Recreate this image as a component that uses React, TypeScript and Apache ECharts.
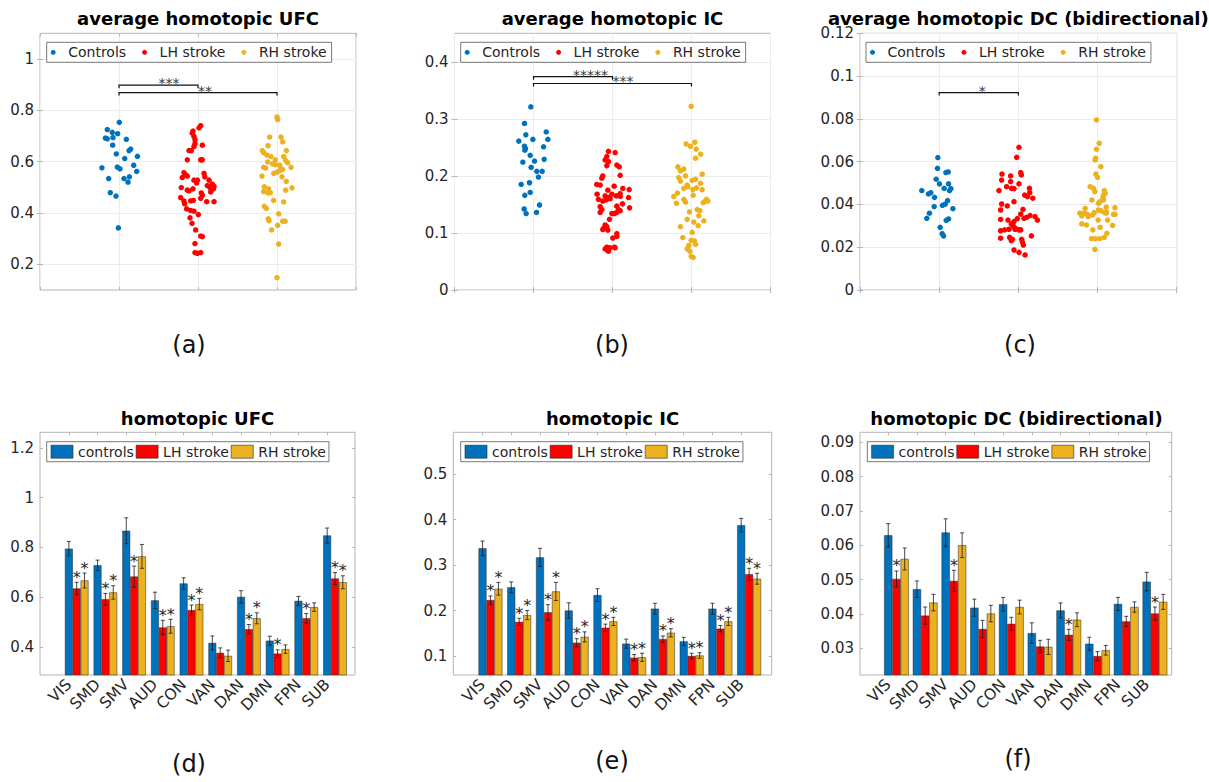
import React, { useEffect, useRef } from "react";
import * as echarts from "echarts";

const BLUE = "#0072BD";
const RED = "#FF0000";
const YELLOW = "#EDB120";
const FONT = "DejaVu Sans";
const TXT = "#262626";
const BOX = "#b4b4b4";
const GRIDLINE = "#ececec";

// ---------- scatter data: [x offset from group centre, value] ----------
const ufcControls: [number, number][] = [
  [0.004, 0.753], [-0.148, 0.725], [-0.085, 0.714], [-0.017, 0.709], [-0.173, 0.692], [-0.148, 0.689],
  [-0.076, 0.694], [0.093, 0.687], [-0.08, 0.664], [0.148, 0.649], [0.127, 0.643], [-0.034, 0.63],
  [0.233, 0.621], [0.072, 0.612], [-0.216, 0.576], [-0.021, 0.579], [0.013, 0.572], [0.186, 0.586],
  [0.224, 0.562], [0.063, 0.534], [0.131, 0.541], [-0.131, 0.534], [0.114, 0.52], [-0.11, 0.479],
  [-0.038, 0.466], [-0.008, 0.342],
];
const ufcLH: [number, number][] = [
  [0.034, 0.74], [0.013, 0.732], [-0.063, 0.719], [-0.072, 0.711], [-0.051, 0.698], [-0.038, 0.685],
  [-0.038, 0.67], [-0.051, 0.659], [0.055, 0.664], [-0.114, 0.643], [-0.085, 0.643], [-0.135, 0.607],
  [0.034, 0.607], [0.055, 0.607], [-0.178, 0.557], [-0.156, 0.548], [-0.199, 0.538], [-0.135, 0.544],
  [-0.051, 0.528], [-0.008, 0.528], [0.076, 0.554], [0.085, 0.541], [0.14, 0.528], [-0.017, 0.517],
  [0.118, 0.507], [0.182, 0.512], [0.203, 0.504], [0.195, 0.494], [0.152, 0.499], [-0.211, 0.499],
  [-0.063, 0.494], [-0.114, 0.486], [-0.135, 0.489], [0.042, 0.478], [0.055, 0.47], [0.161, 0.482],
  [0.034, 0.457], [-0.22, 0.46], [-0.178, 0.447], [-0.093, 0.447], [-0.059, 0.449], [0.203, 0.444],
  [0.11, 0.444], [-0.169, 0.436], [-0.144, 0.416], [-0.093, 0.41], [-0.051, 0.407], [0.004, 0.394],
  [-0.101, 0.381], [-0.076, 0.36], [-0.03, 0.334], [0.034, 0.31], [0.055, 0.308], [-0.038, 0.281],
  [-0.038, 0.246], [-0.008, 0.243], [0.034, 0.246],
];
const ufcRH: [number, number][] = [
  [0, 0.774], [0.008, 0.764], [-0.093, 0.696], [0.051, 0.696], [-0.114, 0.662], [0.072, 0.677],
  [-0.186, 0.643], [-0.169, 0.635], [0.118, 0.643], [-0.127, 0.625], [-0.076, 0.62], [0.085, 0.62],
  [-0.021, 0.607], [0.11, 0.604], [0.135, 0.596], [-0.118, 0.599], [-0.055, 0.591], [-0.021, 0.588],
  [0.034, 0.586], [0.178, 0.578], [-0.169, 0.578], [-0.144, 0.575], [0.072, 0.57], [0.034, 0.565],
  [0, 0.559], [-0.042, 0.554], [-0.19, 0.544], [0.118, 0.523], [0.063, 0.541], [-0.161, 0.502],
  [-0.106, 0.494], [0.19, 0.498], [-0.169, 0.483], [-0.114, 0.478], [-0.085, 0.479], [0.11, 0.489],
  [-0.042, 0.449], [0.085, 0.443], [-0.161, 0.426], [-0.135, 0.418], [0.021, 0.397], [-0.11, 0.377],
  [-0.101, 0.37], [0.072, 0.368], [0.101, 0.368], [0.008, 0.352], [-0.068, 0.334], [0.021, 0.279],
  [0, 0.148],
];
const icControls: [number, number][] = [
  [-0.034, 0.321], [-0.114, 0.292], [-0.097, 0.272], [0.161, 0.277], [-0.008, 0.264], [0.182, 0.264],
  [-0.186, 0.261], [-0.114, 0.252], [-0.101, 0.248], [-0.11, 0.245], [0.127, 0.251], [-0.042, 0.236],
  [-0.135, 0.224], [0.013, 0.226], [0.135, 0.229], [-0.03, 0.215], [0.042, 0.208], [0.11, 0.208],
  [0.063, 0.198], [-0.156, 0.185], [-0.051, 0.188], [-0.11, 0.166], [-0.042, 0.171], [0.076, 0.149],
  [-0.118, 0.142], [-0.093, 0.134], [0.038, 0.136],
];
const icLH: [number, number][] = [
  [-0.051, 0.243], [0.034, 0.241], [-0.072, 0.234], [-0.093, 0.228], [-0.051, 0.225], [0.055, 0.219],
  [0.085, 0.216], [-0.072, 0.218], [0.097, 0.201], [-0.123, 0.2], [-0.135, 0.196], [-0.199, 0.185],
  [-0.156, 0.184], [0.021, 0.182], [0.131, 0.178], [0.211, 0.176], [-0.059, 0.175], [0.097, 0.169],
  [-0.008, 0.168], [-0.093, 0.165], [0.047, 0.165], [-0.195, 0.168], [-0.051, 0.162], [0.097, 0.164],
  [0.203, 0.162], [-0.178, 0.159], [-0.03, 0.16], [-0.08, 0.158], [-0.123, 0.156], [0.127, 0.151],
  [-0.156, 0.146], [0.055, 0.147], [0.076, 0.141], [0.216, 0.144], [-0.135, 0.141], [0.025, 0.134],
  [0.055, 0.136], [-0.008, 0.134], [0.097, 0.139], [-0.156, 0.136], [-0.038, 0.124], [-0.093, 0.114],
  [-0.114, 0.108], [-0.072, 0.111], [-0.059, 0.105], [-0.123, 0.106], [0.055, 0.099], [0.004, 0.091],
  [0.055, 0.094], [-0.072, 0.075], [-0.03, 0.074], [-0.093, 0.072], [0.034, 0.074], [-0.059, 0.069],
  [-0.051, 0.068], [0.025, 0.075],
];
const icRH: [number, number][] = [
  [-0.004, 0.322], [-0.068, 0.256], [0.042, 0.259], [-0.013, 0.252], [0.059, 0.247], [0.114, 0.238],
  [0.051, 0.231], [-0.173, 0.216], [-0.097, 0.212], [-0.14, 0.209], [-0.076, 0.2], [-0.161, 0.197],
  [0.051, 0.194], [0.135, 0.203], [0.008, 0.192], [-0.14, 0.191], [-0.055, 0.184], [-0.047, 0.181],
  [0.114, 0.187], [-0.097, 0.178], [0.063, 0.179], [0.017, 0.176], [0.135, 0.176], [-0.178, 0.17],
  [-0.224, 0.164], [0.021, 0.166], [-0.097, 0.159], [0.19, 0.159], [-0.076, 0.154], [0.173, 0.156],
  [-0.19, 0.152], [0.148, 0.153], [0.207, 0.156], [-0.025, 0.137], [0.072, 0.141], [0.106, 0.139],
  [0.093, 0.13], [-0.055, 0.124], [0.03, 0.119], [0.156, 0.121], [-0.14, 0.111], [0.085, 0.113],
  [0.008, 0.101], [-0.11, 0.092], [-0.004, 0.087], [0.038, 0.086], [0.051, 0.08], [-0.034, 0.078],
  [-0.055, 0.072], [-0.021, 0.068], [-0.004, 0.059], [0.021, 0.057],
];
const dcControls: [number, number][] = [
  [-0.017, 0.0619], [-0.021, 0.0569], [0.085, 0.0549], [0.114, 0.0552], [-0.038, 0.0518], [0.004, 0.0496],
  [0.118, 0.0496], [-0.22, 0.0465], [-0.106, 0.0455], [-0.135, 0.0449], [-0.059, 0.0433], [0.148, 0.0474],
  [0.063, 0.0475], [0.131, 0.0465], [0.106, 0.0418], [0.076, 0.0401], [0.042, 0.0396], [-0.063, 0.039],
  [0.173, 0.038], [-0.123, 0.0359], [-0.156, 0.0335], [0.118, 0.0332], [0.089, 0.0326], [0.013, 0.0293],
  [0.038, 0.0263], [0.055, 0.0253],
];
const dcLH: [number, number][] = [
  [0.008, 0.0667], [-0.021, 0.062], [-0.207, 0.0542], [0.03, 0.0549], [0.038, 0.0538], [-0.097, 0.0533],
  [-0.211, 0.0514], [-0.097, 0.0507], [0.008, 0.0496], [-0.148, 0.0483], [-0.055, 0.0474], [-0.085, 0.0475],
  [-0.245, 0.0465], [0.14, 0.0475], [0.144, 0.0455], [0.08, 0.0444], [0.114, 0.0436], [0.182, 0.0429],
  [-0.055, 0.0413], [-0.211, 0.0402], [-0.14, 0.0393], [0.059, 0.0377], [-0.224, 0.0374], [0.03, 0.0355],
  [0.148, 0.0348], [0.211, 0.0343], [0.106, 0.034], [-0.224, 0.033], [-0.013, 0.0334], [0.072, 0.0335],
  [0.241, 0.0327], [-0.055, 0.032], [-0.131, 0.0327], [-0.089, 0.0309], [-0.042, 0.0284], [0.008, 0.0281],
  [-0.034, 0.0287], [-0.118, 0.0284], [0.03, 0.0281], [-0.173, 0.0281], [-0.063, 0.0299], [-0.224, 0.0277],
  [0.165, 0.0253], [-0.11, 0.0246], [-0.224, 0.0242], [-0.076, 0.0237], [0.042, 0.0237], [-0.089, 0.0231],
  [0.051, 0.0224], [0.063, 0.021], [-0.055, 0.0187], [0.008, 0.0176], [0.085, 0.0164],
];
const dcRH: [number, number][] = [
  [-0.013, 0.0795], [0.021, 0.0686], [-0.013, 0.0658], [-0.025, 0.0616], [-0.03, 0.0608], [0.042, 0.0577],
  [-0.021, 0.0542], [0, 0.0527], [-0.093, 0.0483], [-0.051, 0.0475], [-0.034, 0.046], [0.085, 0.0465],
  [0.097, 0.0452], [0.076, 0.0444], [0.068, 0.0433], [0.076, 0.0421], [-0.072, 0.0421], [0.03, 0.0413],
  [0.013, 0.0405], [0.11, 0.0387], [0.22, 0.0385], [0.013, 0.0374], [-0.156, 0.0382], [0.042, 0.0371],
  [0.114, 0.0365], [-0.042, 0.0362], [-0.224, 0.0359], [-0.169, 0.0359], [-0.127, 0.0354], [-0.199, 0.0346],
  [-0.118, 0.0343], [-0.063, 0.0351], [0.085, 0.0363], [0.106, 0.0359], [0.203, 0.0354], [0.22, 0.0354],
  [0.008, 0.0327], [0.127, 0.0327], [-0.199, 0.0309], [-0.14, 0.0304], [0.034, 0.0293], [0.19, 0.0302],
  [-0.059, 0.0281], [0.118, 0.0265], [-0.076, 0.024], [-0.03, 0.024], [0.03, 0.024], [0.085, 0.0246],
  [-0.034, 0.019],
];

// significance brackets: [from group, to group, height, label]
const ufcBrackets: [number, number, number, string][] = [[1, 2, 0.898, "***"], [1, 3, 0.869, "**"]];
const icBrackets: [number, number, number, string][] = [[1, 2, 0.374, "*****"], [1, 3, 0.362, "***"]];
const dcBrackets: [number, number, number, string][] = [[1, 2, 0.0923, "*"]];

// ---------- bar data ----------
const networks = ["VIS", "SMD", "SMV", "AUD", "CON", "VAN", "DAN", "DMN", "FPN", "SUB"];

const ufcCtrl = [0.795, 0.728, 0.867, 0.587, 0.655, 0.416, 0.601, 0.425, 0.585, 0.848];
const ufcCtrlErr = [0.029, 0.021, 0.052, 0.033, 0.023, 0.028, 0.025, 0.018, 0.018, 0.03];
const ufcLHm = [0.635, 0.592, 0.683, 0.478, 0.548, 0.376, 0.471, 0.373, 0.515, 0.675];
const ufcLHErr = [0.025, 0.023, 0.042, 0.029, 0.02, 0.02, 0.019, 0.015, 0.019, 0.024];
const ufcRHm = [0.667, 0.619, 0.764, 0.483, 0.572, 0.364, 0.515, 0.391, 0.56, 0.66];
const ufcRHErr = [0.03, 0.027, 0.048, 0.028, 0.023, 0.023, 0.022, 0.017, 0.017, 0.026];
const ufcSigLH = [1, 1, 1, 1, 1, 0, 1, 1, 1, 1];
const ufcSigRH = [1, 1, 0, 1, 1, 0, 1, 0, 0, 1];

const icCtrl = [0.337, 0.251, 0.317, 0.2, 0.234, 0.127, 0.204, 0.132, 0.204, 0.388];
const icCtrlErr = [0.016, 0.012, 0.02, 0.017, 0.014, 0.01, 0.012, 0.009, 0.012, 0.015];
const icLHm = [0.223, 0.175, 0.196, 0.129, 0.162, 0.096, 0.137, 0.1, 0.16, 0.28];
const icLHErr = [0.009, 0.008, 0.017, 0.009, 0.008, 0.007, 0.007, 0.006, 0.007, 0.013];
const icRHm = [0.248, 0.19, 0.242, 0.142, 0.176, 0.097, 0.151, 0.101, 0.176, 0.27];
const icRHErr = [0.014, 0.01, 0.02, 0.011, 0.009, 0.009, 0.009, 0.006, 0.009, 0.012];
const icSigLH = [1, 1, 1, 1, 1, 1, 1, 1, 1, 1];
const icSigRH = [1, 1, 1, 1, 1, 1, 1, 1, 1, 1];

const dcCtrl = [0.0629, 0.0472, 0.0637, 0.0418, 0.0428, 0.0344, 0.041, 0.0313, 0.0429, 0.0494];
const dcCtrlErr = [0.0034, 0.0024, 0.004, 0.0025, 0.002, 0.003, 0.0022, 0.0019, 0.0019, 0.0027];
const dcLHm = [0.0502, 0.0395, 0.0496, 0.0356, 0.0371, 0.0305, 0.0339, 0.0277, 0.0378, 0.0401];
const dcLHErr = [0.0023, 0.0025, 0.0031, 0.0025, 0.0019, 0.0018, 0.0016, 0.0013, 0.0015, 0.0019];
const dcRHm = [0.056, 0.0433, 0.06, 0.0401, 0.042, 0.0304, 0.0383, 0.0294, 0.042, 0.0435];
const dcRHErr = [0.0032, 0.0024, 0.0036, 0.0024, 0.002, 0.0022, 0.002, 0.0014, 0.0015, 0.0022];
const dcSigLH = [1, 0, 1, 0, 0, 0, 1, 0, 0, 1];
const dcSigRH = [0, 0, 0, 0, 0, 0, 0, 0, 0, 0];

// tick values
const ufcTicks = [0.2, 0.4, 0.6, 0.8, 1];
const icTicks = [0, 0.1, 0.2, 0.3, 0.4];
const dcTicks = [0, 0.02, 0.04, 0.06, 0.08, 0.1, 0.12];
const ufcBarTicks = [0.4, 0.6, 0.8, 1, 1.2];
const icBarTicks = [0.1, 0.2, 0.3, 0.4, 0.5];
const dcBarTicks = [0.03, 0.04, 0.05, 0.06, 0.07, 0.08, 0.09];

const fmt = (v: number) => String(+Number(v).toFixed(6));

function buildOption() {
  const grid: any[] = [];
  const xAxis: any[] = [];
  const yAxis: any[] = [];
  const series: any[] = [];
  const legend: any[] = [];
  const title: any[] = [];

  const tickStyle = { color: BOX, width: 1 };

  function topPanel(p: any) {
    const gi = grid.length;
    grid.push({ left: p.left, top: 33.3, width: p.width, height: 256.7, show: true, borderColor: BOX, borderWidth: 1 });
    const xi = xAxis.length;
    xAxis.push({
      gridIndex: gi, type: "value", min: 0, max: 4, interval: 1,
      axisLine: { show: false }, axisLabel: { show: false },
      axisTick: { show: true, inside: true, length: 3, lineStyle: tickStyle },
      splitLine: { show: true, lineStyle: { color: GRIDLINE, width: 1 } },
    });
    xAxis.push({
      gridIndex: gi, type: "value", position: "top", min: 0, max: 4, interval: 1,
      axisLine: { show: false }, axisLabel: { show: false },
      axisTick: { show: true, inside: true, length: 3, lineStyle: tickStyle }, splitLine: { show: false },
    });
    const yi = yAxis.length;
    yAxis.push({
      gridIndex: gi, type: "value", min: p.min, max: p.max,
      axisLine: { show: false },
      axisTick: { show: true, inside: true, length: 3, customValues: p.ticks, lineStyle: tickStyle },
      axisLabel: { customValues: p.ticks, formatter: fmt, color: TXT, fontSize: 15, fontFamily: FONT, margin: 6 },
      splitLine: { show: true, lineStyle: { color: GRIDLINE, width: 1 } },
    });
    yAxis.push({
      gridIndex: gi, type: "value", position: "right", min: p.min, max: p.max,
      axisLine: { show: false },
      axisTick: { show: true, inside: true, length: 3, customValues: p.ticks, lineStyle: tickStyle },
      axisLabel: { show: false, customValues: p.ticks }, splitLine: { show: false },
    });
    const names = ["Controls", "LH stroke", "RH stroke"];
    const colors = [BLUE, RED, YELLOW];
    p.groups.forEach((pts: [number, number][], k: number) => {
      series.push({
        type: "scatter", name: names[k], xAxisIndex: xi, yAxisIndex: yi,
        data: pts.map(([dx, v]) => [k + 1 + dx, v]),
        symbol: "circle", symbolSize: 5.5, itemStyle: { color: colors[k], opacity: 1 }, z: 3,
      });
    });
    const br = p.brackets as [number, number, number, string][];
    series.push({
      type: "custom", xAxisIndex: xi, yAxisIndex: yi, z: 4,
      data: br.map((b) => [b[0], b[2]]),
      renderItem: (params: any, api: any) => {
        const b = br[params.dataIndex];
        const p1 = api.coord([b[0], b[2]]);
        const p2 = api.coord([b[1], b[2]]);
        const mid = api.coord([(b[0] + b[1]) / 2, b[2]]);
        return {
          type: "group",
          children: [
            {
              type: "polyline",
              shape: { points: [[p1[0], p1[1] + 3], [p1[0], p1[1]], [p2[0], p2[1]], [p2[0], p2[1] + 3]] },
              style: { stroke: "#111", lineWidth: 1.2, fill: null },
            },
            {
              type: "text", x: mid[0], y: p1[1] - 2,
              style: { text: b[3], fill: "#3a3a3a", fontSize: 14, fontFamily: FONT, align: "left", verticalAlign: "middle" },
            },
          ],
        };
      },
    });
    legend.push({
      left: p.legendLeft, top: 42.3, orient: "horizontal", selectedMode: false,
      data: names.map((n, i) => ({ name: n, icon: "circle", itemStyle: { color: colors[i], borderWidth: 0 } })),
      itemWidth: 20, itemHeight: 5, itemGap: 16, padding: [3, 5, 3, 4],
      borderColor: "#555", borderWidth: 0.8, backgroundColor: "#fff",
      textStyle: { fontSize: 14, fontFamily: FONT, color: TXT },
    });
    title.push({
      text: p.title, left: p.left + p.width / 2, top: 9, textAlign: "center", padding: 0,
      textStyle: { fontSize: 18, fontWeight: "bold", fontFamily: FONT, color: "#000" },
    });
  }

  function barPanel(p: any) {
    const T = 432.3, H = 242.7;
    // frame
    const gf = grid.length;
    grid.push({ left: p.frameLeft, top: T, width: p.frameWidth, height: H, show: true, borderColor: BOX, borderWidth: 1 });
    xAxis.push({ gridIndex: gf, type: "value", show: false, min: 0, max: 1 });
    yAxis.push({
      gridIndex: gf, type: "value", min: p.min, max: p.max,
      axisLine: { show: false },
      axisTick: { show: true, inside: true, length: 3, customValues: p.ticks, lineStyle: tickStyle },
      axisLabel: { customValues: p.ticks, formatter: fmt, color: TXT, fontSize: 15, fontFamily: FONT, margin: 6 },
      splitLine: { show: false },
    });
    yAxis.push({
      gridIndex: gf, type: "value", position: "right", min: p.min, max: p.max,
      axisLine: { show: false },
      axisTick: { show: true, inside: true, length: 3, customValues: p.ticks, lineStyle: tickStyle },
      axisLabel: { show: false, customValues: p.ticks }, splitLine: { show: false },
    });
    // bars
    const gb = grid.length;
    grid.push({ left: p.barLeft, top: T, width: p.barWidth, height: H, show: false });
    const bx = xAxis.length;
    xAxis.push({ gridIndex: gb, type: "category", data: networks, show: false });
    const by = yAxis.length;
    yAxis.push({ gridIndex: gb, type: "value", min: p.min, max: p.max, show: false });
    // labels (category ticks sit on the first bar of each group)
    const bw = (p.barWidth / networks.length) * (1 - p.gap) / 3;
    const gl = grid.length;
    grid.push({ left: p.barLeft - bw, top: T, width: p.barWidth, height: H, show: false });
    xAxis.push({
      gridIndex: gl, type: "category", data: networks,
      axisLine: { show: false }, axisTick: { show: false },
      axisLabel: { rotate: 45, interval: 0, fontSize: 15.5, color: TXT, fontFamily: FONT, margin: 7 },
    });
    xAxis.push({
      gridIndex: gl, type: "category", data: networks, position: "top",
      axisLine: { show: false }, axisLabel: { show: false },
      axisTick: { show: true, inside: true, alignWithLabel: true, interval: 0, length: 3, lineStyle: tickStyle },
    });
    yAxis.push({ gridIndex: gl, type: "value", show: false, min: p.min, max: p.max });

    const names = ["controls", "LH stroke", "RH stroke"];
    const colors = [BLUE, RED, YELLOW];
    const gapPct = Math.round(p.gap * 100) + "%";
    p.means.forEach((m: number[], k: number) => {
      series.push({
        type: "bar", name: names[k], xAxisIndex: bx, yAxisIndex: by, data: m,
        barGap: "0%", barCategoryGap: gapPct, clip: true,
        itemStyle: { color: colors[k], borderColor: "#2a2a2a", borderWidth: 0.5 }, z: 2,
      });
    });
    p.means.forEach((m: number[], k: number) => {
      const errs: number[] = p.errs[k];
      const sig: number[] = p.sig[k];
      const gap = p.gap;
      series.push({
        type: "custom", xAxisIndex: bx, yAxisIndex: by, z: 5,
        data: m.map((v, i) => [i, v, errs[i], sig[i] || 0]),
        renderItem: (params: any, api: any) => {
          const ci = api.value(0), mv = api.value(1), e = api.value(2), s = api.value(3);
          const band = api.size([1, 0])[0];
          const w = (band * (1 - gap)) / 3;
          const c = api.coord([ci, mv]);
          const x = c[0] + (k - 1) * w;
          const yt = api.coord([ci, mv + e])[1];
          const yb = api.coord([ci, mv - e])[1];
          const st = { stroke: "#1a1a1a", lineWidth: 0.8 };
          const children: any[] = [
            { type: "line", shape: { x1: x, y1: yt, x2: x, y2: yb }, style: st },
            { type: "line", shape: { x1: x - 2, y1: yt, x2: x + 2, y2: yt }, style: st },
            { type: "line", shape: { x1: x - 2, y1: yb, x2: x + 2, y2: yb }, style: st },
          ];
          if (s) {
            children.push({
              type: "text", x, y: yt - 5,
              style: { text: "*", fill: TXT, fontSize: 16, fontFamily: FONT, align: "center", verticalAlign: "middle" },
            });
          }
          return { type: "group", children };
        },
      });
    });
    legend.push({
      left: p.legendLeft, top: 441.7, orient: "horizontal", selectedMode: false,
      data: names.map((n, i) => ({ name: n, icon: "rect", itemStyle: { color: colors[i], borderColor: "#2a2a2a", borderWidth: 0.6 } })),
      itemWidth: 22, itemHeight: 13, itemGap: 2, padding: [3, 3, 3, 4],
      borderColor: "#555", borderWidth: 0.8, backgroundColor: "#fff",
      textStyle: { fontSize: 14, fontFamily: FONT, color: TXT },
    });
    title.push({
      text: p.title, left: p.titleX, top: 409, textAlign: "center", padding: 0,
      textStyle: { fontSize: 18, fontWeight: "bold", fontFamily: FONT, color: "#000" },
    });
  }

  topPanel({ left: 40, width: 316, min: 0.1, max: 1.1, ticks: ufcTicks, groups: [ufcControls, ufcLH, ufcRH], brackets: ufcBrackets, legendLeft: 46.7, title: "average homotopic UFC" });
  topPanel({ left: 454.5, width: 316, min: 0, max: 0.45, ticks: icTicks, groups: [icControls, icLH, icRH], brackets: icBrackets, legendLeft: 460.7, title: "average homotopic IC" });
  topPanel({ left: 860, width: 316.7, min: 0, max: 0.12, ticks: dcTicks, groups: [dcControls, dcLH, dcRH], brackets: dcBrackets, legendLeft: 866, title: "average homotopic DC (bidirectional)" });

  barPanel({ frameLeft: 40, frameWidth: 315, barLeft: 62.35, barWidth: 287, gap: 0.18, min: 0.287, max: 1.263, ticks: ufcBarTicks,
    means: [ufcCtrl, ufcLHm, ufcRHm], errs: [ufcCtrlErr, ufcLHErr, ufcRHErr], sig: [[], ufcSigLH, ufcSigRH],
    legendLeft: 46.7, title: "homotopic UFC", titleX: 197.5 });
  barPanel({ frameLeft: 453.3, frameWidth: 318.4, barLeft: 476.1, barWidth: 287.4, gap: 0.17, min: 0.058, max: 0.5925, ticks: icBarTicks,
    means: [icCtrl, icLHm, icRHm], errs: [icCtrlErr, icLHErr, icRHErr], sig: [[], icSigLH, icSigRH],
    legendLeft: 460.7, title: "homotopic IC", titleX: 612.5 });
  barPanel({ frameLeft: 860, frameWidth: 311.7, barLeft: 882.1, barWidth: 287.2, gap: 0.14, min: 0.0222, max: 0.0929, ticks: dcBarTicks,
    means: [dcCtrl, dcLHm, dcRHm], errs: [dcCtrlErr, dcLHErr, dcRHErr], sig: [[], dcSigLH, dcSigRH],
    legendLeft: 867.3, title: "homotopic DC (bidirectional)", titleX: 1016.5 });

  const panelLabels: [string, number, number][] = [
    ["(a)", 189, 345], ["(b)", 612, 345], ["(c)", 1020, 345],
    ["(d)", 189, 764], ["(e)", 612, 761], ["(f)", 1018, 759],
  ];
  const graphic = panelLabels.map(([t, x, y]) => ({
    type: "text", x, y,
    style: { text: t, fill: "#111", fontSize: 24, fontFamily: FONT, align: "center", verticalAlign: "middle" },
  }));

  return {
    animation: false,
    backgroundColor: "#ffffff",
    grid, xAxis, yAxis, series, legend, title, graphic,
  };
}

export default function App() {
  const ref = useRef<HTMLDivElement>(null);
  useEffect(() => {
    if (!ref.current) return;
    const chart = echarts.init(ref.current, undefined, { renderer: "svg" });
    chart.setOption(buildOption() as any);
    return () => chart.dispose();
  }, []);
  return (
    <div
      ref={ref}
      style={{ position: "fixed", left: 0, top: 0, width: 1209, height: 782, background: "#fff" }}
    />
  );
}
